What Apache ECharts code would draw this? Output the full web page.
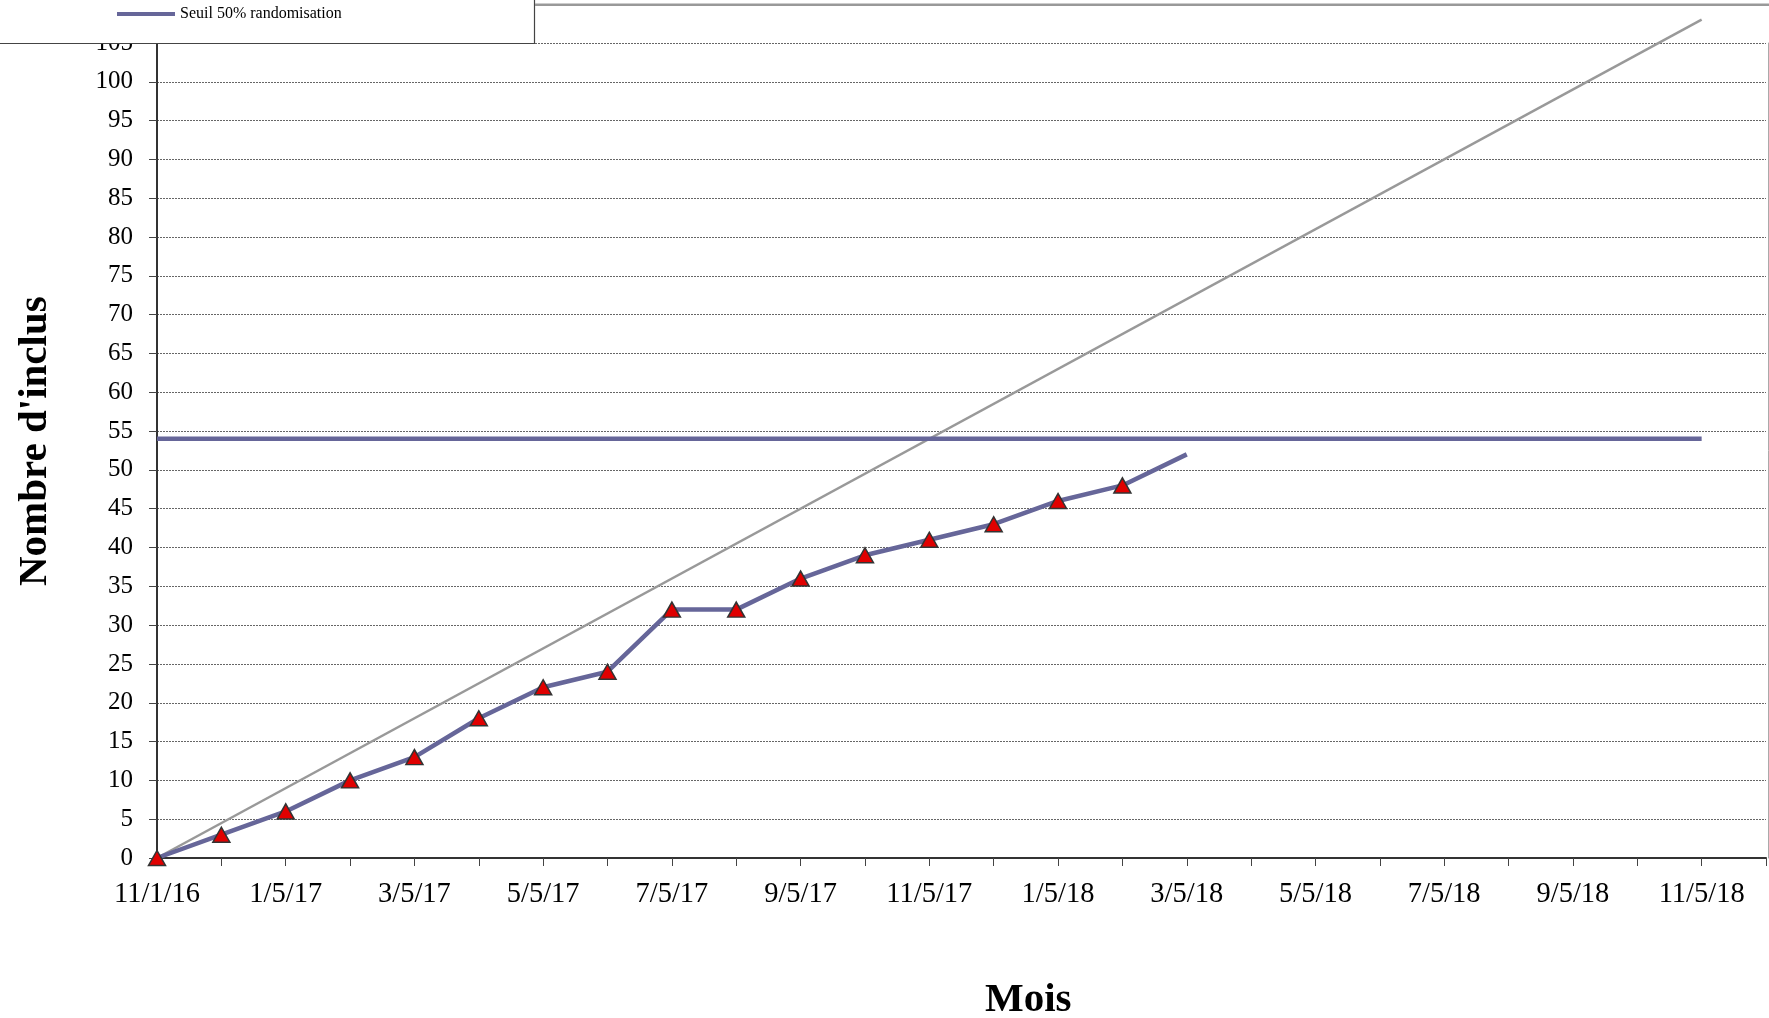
<!DOCTYPE html>
<html>
<head>
<meta charset="utf-8">
<script src="https://cdn.jsdelivr.net/npm/echarts@6/dist/echarts.min.js"></script>
<style>
html,body{margin:0;padding:0;background:#fff;}
#chart{width:1769px;height:1018px;}
</style>
</head>
<body>
<div id="chart"></div>
<script>
// Category ticks (25 ticks + final plot edge); labels every second tick
const monthLabels = ['11/1/16','','1/5/17','','3/5/17','','5/5/17','','7/5/17','','9/5/17','','11/5/17','','1/5/18','','3/5/18','','5/5/18','','7/5/18','','9/5/18','','11/5/18',''];
// Cumulative number of included patients (last point without marker)
const inclus = [0, 3, 6, 10, 13, 18, 22, 24, 32, 32, 36, 39, 41, 43, 46, 48, 52];
// 50% randomisation threshold
const seuil = [54,54,54,54,54,54,54,54,54,54,54,54,54,54,54,54,54,54,54,54,54,54,54,54,54];
// Theoretical inclusion target line: [category index, value]
const objectif = [[0, 0], [24, 108]];
// Y axis range
const yMin = 0, yMax = 105, yStep = 5;

const SERIF = "'Liberation Serif','Times New Roman',serif";
const chart = echarts.init(document.getElementById('chart'));
const inclusData = inclus.map((v, i) => i === inclus.length - 1 ? { value: v, symbol: 'none' } : v);

chart.setOption({
  animation: false,
  backgroundColor: '#fff',
  grid: { left: 157, top: 43, width: 1613, bottom: 160, containLabel: false },
  xAxis: {
    type: 'category',
    data: monthLabels,
    boundaryGap: false,
    axisLine: { show: true, lineStyle: { color: '#333', width: 2 } },
    axisTick: { show: true, interval: 0, length: 8, lineStyle: { color: '#444', width: 1 } },
    axisLabel: { interval: 0, margin: 22, color: '#000', fontFamily: SERIF, fontSize: 28.5 },
    splitLine: { show: false }
  },
  yAxis: [{
    type: 'value',
    min: yMin, max: yMax, interval: yStep,
    axisLine: { show: true, lineStyle: { color: '#333', width: 2 } },
    axisTick: { show: true, length: 8, lineStyle: { color: '#444', width: 1 } },
    axisLabel: { margin: 24, color: '#000', fontFamily: SERIF, fontSize: 25 },
    splitLine: { show: true, lineStyle: { color: '#666', width: 1, type: [2, 1] } }
  }, {
    type: 'value',
    position: 'right',
    offset: 2,
    min: yMin, max: yMax, interval: yStep,
    axisLine: { show: true, lineStyle: { color: '#aaa', width: 1 } },
    axisTick: { show: false },
    axisLabel: { show: false },
    splitLine: { show: false }
  }],
  legend: {
    data: ['Seuil 50% randomisation'],
    left: 117, top: 6, padding: 0,
    icon: 'rect', itemWidth: 58, itemHeight: 4,
    textStyle: { fontFamily: SERIF, fontSize: 16, color: '#000' },
    z: 20
  },
  graphic: [
    { type: 'rect', z: 15, shape: { x: -2, y: -2, width: 536.5, height: 45.5 },
      style: { fill: '#fff', stroke: '#444', lineWidth: 1.2 } },
    { type: 'line', z: 15, shape: { x1: 535, y1: 4.7, x2: 1769, y2: 4.7 },
      style: { stroke: '#999', lineWidth: 2.5 } },
    { type: 'text', left: 985, top: 980, z: 15,
      style: { text: 'Mois', font: "bold 41px 'Liberation Serif','Times New Roman',serif", fill: '#000' } },
    { type: 'text', x: 14.5, y: 586, rotation: Math.PI / 2, z: 15,
      style: { text: "Nombre d'inclus", font: "bold 41px 'Liberation Serif','Times New Roman',serif", fill: '#000',
               textAlign: 'left', textVerticalAlign: 'top' } }
  ],
  series: [
    {
      name: 'Objectif',
      type: 'line',
      data: objectif,
      clip: false,
      symbol: 'none',
      lineStyle: { color: '#999', width: 2.5 },
      z: 2
    },
    {
      name: 'Seuil 50% randomisation',
      type: 'line',
      data: seuil,
      symbol: 'none',
      itemStyle: { color: '#666699' },
      lineStyle: { color: '#666699', width: 4.5 },
      z: 3
    },
    {
      name: "Nombre d'inclus",
      type: 'line',
      data: inclusData,
      symbol: 'triangle',
      symbolSize: [17, 15],
      showSymbol: true,
      itemStyle: { color: '#e00000', borderColor: '#333', borderWidth: 1.5 },
      lineStyle: { color: '#666699', width: 4.5 },
      z: 4
    }
  ]
});
</script>
</body>
</html>
